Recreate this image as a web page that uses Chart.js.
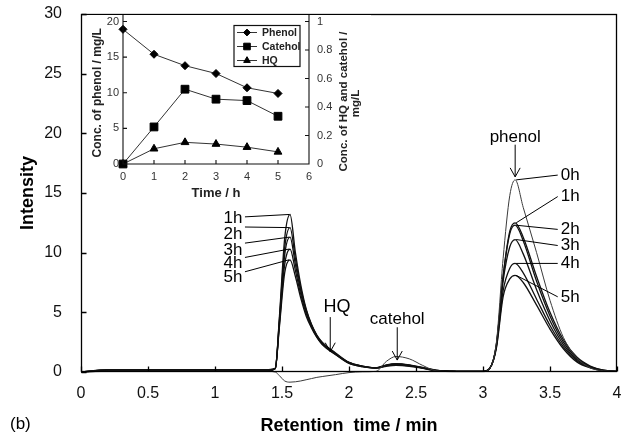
<!DOCTYPE html>
<html>
<head>
<meta charset="utf-8">
<script src="https://cdn.jsdelivr.net/npm/chart.js@4.4.1/dist/chart.umd.min.js"></script>
<style>
  html, body { margin: 0; padding: 0; background: #fff; }
  #wrap { position: relative; width: 621px; height: 443px; overflow: hidden; }
  #main { position: absolute; left: 0; top: 0; }
  #inset { position: absolute; left: 87px; top: 15px; }
</style>
</head>
<body>
<div id="wrap">
  <canvas id="main" width="621" height="443"></canvas>
  <canvas id="inset" width="284" height="190"></canvas>
</div>
<script>
const FONT = "'Liberation Sans', Arial, Helvetica, sans-serif";
Chart.defaults.font.family = FONT;

/* ================= CHROMATOGRAMS (retention time / min vs intensity) ================= */
const retention = [0, 0.2, 0.5, 1.0, 1.4, 1.45, 1.48, 1.52, 1.56, 1.6, 1.64, 1.68, 1.72, 1.76, 1.8, 1.9, 2.0, 2.1, 2.2,
                   2.28, 2.35, 2.45, 2.55, 2.65, 2.8, 3.0, 3.05, 3.1, 3.15, 3.2, 3.24, 3.3, 3.4, 3.5, 3.6, 3.7, 3.8, 3.9, 4.0];
const trace0h = [0, 0.05, 0.05, 0.05, 0.05, 0, -0.3, -0.75, -0.85, -0.82, -0.75, -0.65, -0.55, -0.45, -0.38, -0.22, -0.05, 0.02, 0.05,
                 0.9, 1.3, 1.1, 0.55, 0.1, 0.03, 0.03, 0.3, 2.5, 9.5, 14.8, 16.1, 13.8, 10.0, 6.0, 2.9, 1.2, 0.35, 0.1, 0.05];
const trace1h = [0, 0.2, 0.2, 0.2, 0.2, 0.3, 4.5, 11.2, 13.2, 10.0, 7.3, 5.3, 4.0, 3.1, 2.5, 1.6, 0.8, 0.5, 0.35,
                 0.6, 0.7, 0.6, 0.38, 0.15, 0.06, 0.05, 0.3, 2.3, 8.0, 11.8, 12.5, 11.3, 8.0, 5.0, 2.7, 1.25, 0.5, 0.15, 0.05];
const trace2h = [0, 0.15, 0.15, 0.15, 0.15, 0.3, 4.3, 10.4, 12.1, 9.5, 7.0, 5.2, 3.95, 3.05, 2.45, 1.55, 0.8, 0.5, 0.35,
                 0.58, 0.68, 0.58, 0.36, 0.14, 0.06, 0.05, 0.3, 2.3, 8.0, 11.6, 12.3, 11.0, 7.6, 4.7, 2.5, 1.15, 0.45, 0.15, 0.05];
const trace3h = [0, 0.1, 0.1, 0.1, 0.1, 0.3, 4.1, 9.8, 11.3, 9.0, 6.8, 5.1, 3.9, 3.0, 2.4, 1.5, 0.78, 0.48, 0.35,
                 0.55, 0.65, 0.55, 0.35, 0.13, 0.06, 0.05, 0.3, 2.2, 7.6, 10.5, 11.1, 9.9, 6.9, 4.3, 2.3, 1.05, 0.42, 0.12, 0.05];
const trace4h = [0, 0.18, 0.18, 0.18, 0.18, 0.3, 3.9, 9.0, 10.3, 8.5, 6.5, 4.9, 3.8, 2.95, 2.35, 1.5, 0.75, 0.45, 0.33,
                 0.52, 0.6, 0.52, 0.33, 0.12, 0.05, 0.05, 0.3, 2.1, 6.8, 8.7, 9.1, 8.3, 6.1, 3.9, 2.1, 0.95, 0.38, 0.12, 0.05];
const trace5h = [0, 0.12, 0.12, 0.12, 0.12, 0.3, 3.7, 8.3, 9.4, 8.0, 6.2, 4.7, 3.7, 2.9, 2.3, 1.45, 0.72, 0.45, 0.33,
                 0.48, 0.55, 0.48, 0.3, 0.11, 0.05, 0.05, 0.3, 2.0, 6.3, 7.8, 8.1, 7.5, 5.6, 3.6, 1.95, 0.85, 0.35, 0.1, 0.05];
const traceNames = ['0h', '1h', '2h', '3h', '4h', '5h'];
const traces = [trace0h, trace1h, trace2h, trace3h, trace4h, trace5h];

const firstPeakAt = 1.56;   // min
const phenolPeakAt = 3.24;  // min

/* ================= INSET (time / h vs concentration) ================= */
const hours = [0, 1, 2, 3, 4, 5];
const phenolConc = [18.9, 15.4, 13.8, 12.7, 10.7, 9.9];      // mg/L, left axis
const catecholConc = [0, 0.26, 0.525, 0.455, 0.445, 0.335];  // mg/L, right axis
const hqConc = [0, 0.107, 0.152, 0.14, 0.118, 0.085];        // mg/L, right axis

/* ================= HELPERS ================= */
const plainNum = v => String(+v.toFixed(2));

// fixed axis box; drop the label overhang Chart.js adds around the plot
function fixBox(size) {
    return s => {
        if (s.isHorizontal()) s.height = size; else s.width = size;
        s.paddingTop = s.paddingBottom = s.paddingLeft = s.paddingRight = 0;
    };
}

function arrowDown(ctx, x, y0, y1) {
    ctx.beginPath();
    ctx.moveTo(x, y0);
    ctx.lineTo(x, y1);
    ctx.moveTo(x - 5, y1 - 9);
    ctx.lineTo(x, y1);
    ctx.lineTo(x + 5, y1 - 9);
    ctx.stroke();
}

/* ================= MAIN CHART DECORATION ================= */
const chromDeco = {
    id: 'chromDeco',
    afterDraw(chart) {
        const { ctx, chartArea: a, scales: { x, y } } = chart;
        ctx.save();

        // frame + inward ticks
        const L = Math.round(a.left) + 0.5, R = Math.round(a.right) - 0.5;
        const T = Math.round(a.top) + 0.5, B = Math.round(a.bottom) - 0.5;
        ctx.strokeStyle = '#000';
        ctx.lineWidth = 1.3;
        ctx.strokeRect(L, T, R - L, B - T);
        ctx.beginPath();
        x.ticks.forEach(t => {
            const px = Math.round(x.getPixelForValue(t.value)) + 0.5;
            ctx.moveTo(px, B);
            ctx.lineTo(px, B - 5);
        });
        y.ticks.forEach(t => {
            const py = Math.round(y.getPixelForValue(t.value)) + 0.5;
            ctx.moveTo(L, py);
            ctx.lineTo(L + 5, py);
        });
        ctx.stroke();

        ctx.fillStyle = '#000';
        ctx.lineWidth = 1;
        ctx.font = `17px ${FONT}`;
        ctx.textBaseline = 'middle';

        // first peak labels (1h..5h), left side
        const i1 = retention.indexOf(firstPeakAt);
        const leftTextY = [12.9, 11.5, 10.2, 9.1, 7.9];
        const leftLineY = [13.0, 12.15, 10.8, 9.6, 8.4];
        ctx.textAlign = 'center';
        for (let k = 1; k <= 5; k++) {
            const tx = x.getPixelForValue(1.134);
            const ty = y.getPixelForValue(leftTextY[k - 1]);
            ctx.fillText(traceNames[k], tx, ty);
            ctx.beginPath();
            ctx.moveTo(tx + 12, y.getPixelForValue(leftLineY[k - 1]));
            ctx.lineTo(x.getPixelForValue(firstPeakAt) - 1, y.getPixelForValue(traces[k][i1]));
            ctx.stroke();
        }

        // phenol peak labels (0h..5h), right side
        const i2 = retention.indexOf(phenolPeakAt);
        const rightTextY = [16.5, 14.7, 11.95, 10.6, 9.1, 6.3];
        ctx.textAlign = 'left';
        for (let k = 0; k <= 5; k++) {
            const tx = x.getPixelForValue(3.58);
            const ty = y.getPixelForValue(rightTextY[k]);
            ctx.fillText(traceNames[k], tx, ty);
            ctx.beginPath();
            ctx.moveTo(x.getPixelForValue(phenolPeakAt) + 1, y.getPixelForValue(traces[k][i2]));
            ctx.lineTo(tx - 3, ty);
            ctx.stroke();
        }

        // compound annotations
        ctx.textAlign = 'center';
        ctx.fillText('phenol', x.getPixelForValue(3.24), y.getPixelForValue(19.7));
        arrowDown(ctx, x.getPixelForValue(3.24), y.getPixelForValue(19.05), y.getPixelForValue(16.35));
        ctx.font = `18px ${FONT}`;
        ctx.fillText('HQ', x.getPixelForValue(1.91), y.getPixelForValue(5.45));
        arrowDown(ctx, x.getPixelForValue(1.86), y.getPixelForValue(4.6), y.getPixelForValue(1.7));
        ctx.font = `17px ${FONT}`;
        ctx.fillText('catehol', x.getPixelForValue(2.36), y.getPixelForValue(4.45));
        arrowDown(ctx, x.getPixelForValue(2.36), y.getPixelForValue(3.75), y.getPixelForValue(1.0));

        // panel tag
        ctx.textAlign = 'left';
        ctx.fillText('(b)', 10, 424);
        ctx.restore();
    }
};

new Chart(document.getElementById('main'), {
    type: 'line',
    data: {
        datasets: traces.map((tr, k) => ({
            label: traceNames[k],
            data: retention.map((r, i) => ({ x: r, y: tr[i] })),
            borderColor: k === 0 ? '#3a3a3a' : '#111',
            borderWidth: k === 0 ? 1 : 1.3,
            pointRadius: 0,
            cubicInterpolationMode: 'monotone',
            borderJoinStyle: 'round',
            clip: 16
        }))
    },
    options: {
        responsive: false,
        animation: false,
        events: [],
        layout: { padding: { top: 14, right: 4, left: 0, bottom: 0 } },
        plugins: { legend: { display: false }, tooltip: { enabled: false } },
        scales: {
            x: {
                type: 'linear', min: 0, max: 4,
                grid: { display: false, drawTicks: false },
                border: { display: false },
                ticks: { stepSize: 0.5, autoSkip: false, maxRotation: 0, padding: 12, color: '#111',
                         font: { size: 16 }, callback: plainNum },
                title: { display: true, text: 'Retention  time / min', color: '#000',
                         font: { size: 18, weight: 'bold' }, padding: { top: 0, bottom: 6 } },
                afterFit: fixBox(71)
            },
            y: {
                min: 0, max: 30,
                grid: { display: false, drawTicks: false },
                border: { display: false },
                ticks: { stepSize: 5, padding: 19, color: '#111', font: { size: 16 }, callback: plainNum },
                title: { display: true, text: 'Intensity', color: '#000',
                         font: { size: 18, weight: 'bold' }, padding: { top: 17, bottom: 0 } },
                afterFit: fixBox(81)
            }
        }
    },
    plugins: [chromDeco]
});

/* ================= INSET DECORATION ================= */
const insetDeco = {
    id: 'insetDeco',
    beforeDraw(chart) {
        const { ctx, width, height } = chart;
        ctx.save();
        ctx.fillStyle = '#fff';
        ctx.fillRect(0, 0, width, height);
        ctx.restore();
    },
    afterDraw(chart) {
        const { ctx, chartArea: a, scales: { x, y, y1 } } = chart;
        ctx.save();
        ctx.strokeStyle = '#111';
        ctx.lineWidth = 1.1;
        ctx.beginPath();
        ctx.moveTo(a.left, 0);
        ctx.lineTo(a.left, a.bottom);
        ctx.lineTo(a.right, a.bottom);
        ctx.lineTo(a.right, 0);
        x.ticks.forEach(t => {
            const px = x.getPixelForValue(t.value);
            ctx.moveTo(px, a.bottom);
            ctx.lineTo(px, a.bottom - 4);
        });
        y.ticks.forEach(t => {
            const py = y.getPixelForValue(t.value);
            ctx.moveTo(a.left, py);
            ctx.lineTo(a.left + 4, py);
        });
        y1.ticks.forEach(t => {
            const py = y1.getPixelForValue(t.value);
            ctx.moveTo(a.right, py);
            ctx.lineTo(a.right - 4, py);
        });
        ctx.stroke();

        // right axis title, two lines reading upward
        ctx.fillStyle = '#222';
        ctx.font = `bold 11.5px ${FONT}`;
        ctx.textAlign = 'center';
        ctx.textBaseline = 'middle';
        ctx.save();
        ctx.translate(a.right + 35, a.top + 80);
        ctx.rotate(-Math.PI / 2);
        ctx.fillText('Conc. of HQ and catehol /', 0, 0);
        ctx.fillText('mg/L', -2, 12);
        ctx.restore();

        // legend
        const bx = a.left + 111, by = a.top + 4;
        ctx.lineWidth = 1.2;
        ctx.strokeStyle = '#111';
        ctx.strokeRect(bx, by, 66, 41);
        ctx.font = `bold 10.5px ${FONT}`;
        ctx.textAlign = 'left';
        chart.data.datasets.forEach((ds, i) => {
            const ly = by + 7 + i * 14;
            ctx.strokeStyle = ds.borderColor;
            ctx.lineWidth = 1;
            ctx.beginPath();
            ctx.moveTo(bx + 3, ly);
            ctx.lineTo(bx + 23, ly);
            ctx.stroke();
            ctx.fillStyle = '#000';
            ctx.strokeStyle = '#000';
            Chart.helpers.drawPoint(ctx, { pointStyle: ds.pointStyle, radius: ds.pointRadius * 0.85, borderWidth: 1, rotation: 0 }, bx + 13, ly);
            ctx.fillStyle = '#222';
            ctx.fillText(ds.label, bx + 28, ly + 0.5);
        });
        ctx.restore();
    }
};

new Chart(document.getElementById('inset'), {
    type: 'line',
    data: {
        datasets: [
            { label: 'Phenol', data: hours.map((h, i) => ({ x: h, y: phenolConc[i] })), yAxisID: 'y',
              pointStyle: 'rectRot', pointRadius: 4 },
            { label: 'Catehol', data: hours.map((h, i) => ({ x: h, y: catecholConc[i] })), yAxisID: 'y1',
              pointStyle: 'rect', pointRadius: 5.5 },
            { label: 'HQ', data: hours.map((h, i) => ({ x: h, y: hqConc[i] })), yAxisID: 'y1',
              pointStyle: 'triangle', pointRadius: 4.5 }
        ].map(ds => Object.assign(ds, {
            borderColor: '#333', borderWidth: 1, tension: 0,
            pointBackgroundColor: '#000', pointBorderColor: '#000', pointBorderWidth: 1, clip: 8
        }))
    },
    options: {
        responsive: false,
        animation: false,
        events: [],
        layout: { padding: { top: 3, right: 0, left: 0, bottom: 0 } },
        plugins: { legend: { display: false }, tooltip: { enabled: false } },
        scales: {
            x: {
                type: 'linear', min: 0, max: 6,
                grid: { display: false, drawTicks: false },
                border: { display: false },
                ticks: { stepSize: 1, autoSkip: false, maxRotation: 0, padding: 6, color: '#333',
                         font: { size: 11 }, callback: plainNum },
                title: { display: true, text: 'Time / h', color: '#222',
                         font: { size: 13, weight: 'bold' }, padding: { top: 0, bottom: 4 } },
                afterFit: fixBox(41)
            },
            y: {
                position: 'left', min: 0, max: 20,
                grid: { display: false, drawTicks: false },
                border: { display: false },
                ticks: { stepSize: 5, padding: 4, color: '#333', font: { size: 11 }, callback: plainNum },
                title: { display: true, text: 'Conc. of phenol / mg/L', color: '#222',
                         font: { size: 12, weight: 'bold' }, padding: { top: 3, bottom: 0 } },
                afterFit: fixBox(36)
            },
            y1: {
                position: 'right', min: 0, max: 1,
                grid: { display: false, drawTicks: false },
                border: { display: false },
                ticks: { stepSize: 0.2, padding: 8, color: '#333', font: { size: 11 }, callback: plainNum },
                afterFit: fixBox(62)
            }
        }
    },
    plugins: [insetDeco]
});
</script>
</body>
</html>
